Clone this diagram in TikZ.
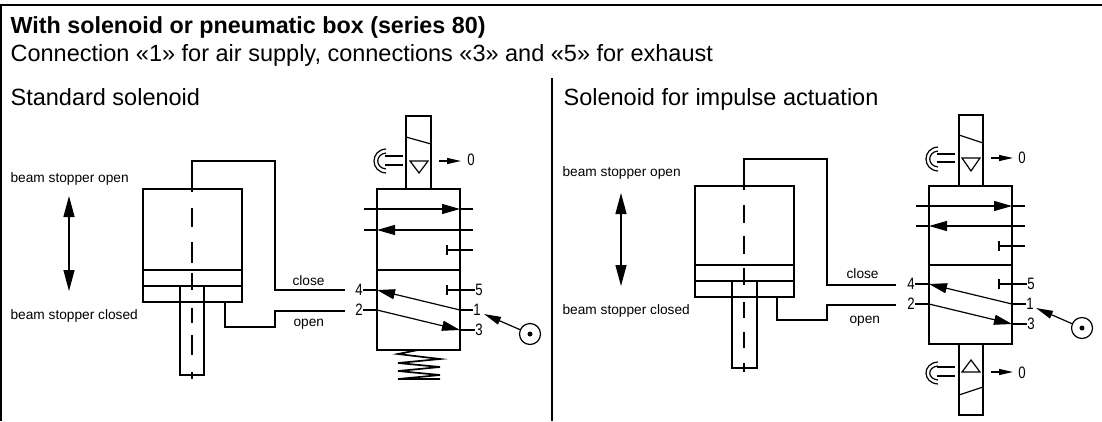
\documentclass[tikz,border=0pt]{standalone}
\usepackage{fontspec}
\usepackage{tikz}
\usetikzlibrary{arrows.meta}
\setmainfont{Liberation Sans}
\newfontfamily\cadfont[FakeStretch=0.8]{Liberation Sans}

\begin{document}
\begin{tikzpicture}[x=1pt,y=-1pt,line width=1.2pt,
	head/.style={anchor=base west,inner sep=0pt,font=\fontsize{23.5}{25}\selectfont},
	note/.style={anchor=base west,inner sep=0pt,font=\fontsize{13.7}{15}\selectfont},
	num/.style={inner sep=0pt,font=\cadfont\fontsize{16.5}{17}\selectfont},
	port/.style={draw,circle,minimum size=21pt,inner sep=0pt},
	big/.style={-{Triangle[length=18pt,width=10pt]}},
	mid/.style={-{Triangle[length=17pt,width=8pt]}},
	tiny/.style={-{Triangle[length=14pt,width=6pt]}},
	dbl/.style={{Triangle[length=21pt,width=11pt]}-{Triangle[length=21pt,width=11pt]}}]
	\useasboundingbox (0,0) rectangle (1102,421);
	
	% frame
	\draw[line width=2pt] (0,5)--(1102,5);
	\draw[line width=2pt] (1,5)--(1,421);
	\draw[line width=1.5pt] (552,78)--(552,421);
	
	% texts
	\node[head,font=\fontsize{23.3}{25}\selectfont\bfseries] (title) at (10,33.5) {With solenoid or pneumatic box (series 80)};
	\node[head] (sub) at (10,61) {Connection «1» for air supply, connections «3» and «5» for exhaust};
	\node[head] (stdname) at (10,105.5) {Standard solenoid};
	\node[head] (impname) at (563,105.5) {Solenoid for impulse actuation};
	\foreach \n/\x/\y/\t in
	{openL/10/182/beam stopper open, closedL/10/319/beam stopper closed,
		openR/562/176/beam stopper open, closedR/562/314/beam stopper closed,
		closeL/292/285/close, valL/293/326/open, closeR/846/278/close, valR/849/323/open}{
		\node[note] (\n) at (\x,\y) {\t};
	}
	\draw[dbl] (69,196)--(69,291);
	\draw[dbl] (621,193)--(621,286);
	
	% cylinder (left)
	\draw (143,189) rectangle (242,302);
	\draw (143,270)--(242,270);
	\draw (143,286)--(242,286);
	\draw (180,286)--(180,375)--(204,375)--(204,286);
	\draw (192,192)--(192,161)--(275,161)--(275,290)--(345,290);
	\draw (225,302)--(225,327)--(275,327)--(275,311)--(345,311);
	\foreach \a/\b in
	{208/227, 242/263, 273/290, 308/323, 335/355, 372/379}{
		\draw (192,\a)--(192,\b);
	}
	
	% cylinder (right)
	\draw (695,186) rectangle (794,297);
	\draw (695,265)--(794,265);
	\draw (695,281)--(794,281);
	\draw (732,281)--(732,368)--(757,368)--(757,281);
	\draw (744,190)--(744,159)--(827,159)--(827,285)--(896,285);
	\draw (777,297)--(777,320)--(827,320)--(827,305)--(896,305);
	\foreach \a/\b in
	{205/223, 236/254, 268/285, 302/318, 332/348, 363/372}{
		\draw (744,\a)--(744,\b);
	}
	
	% valve (left)
	\draw (377,189) rectangle (460,350);
	\draw (377,270)--(460,270);
	\draw[big] (364,209)--(460,209);
	\draw (460,209)--(473,209);
	\draw[big] (473,230)--(377,230);
	\draw (377,230)--(364,230);
	\draw (447,245)--(447,255) (447,250)--(473,250);
	\draw (447,285)--(447,295) (447,290)--(473,290);
	\draw[big] (460,310)--(377,290);
	\draw[big] (377,310)--(460,330);
	\foreach \n/\t/\x/\y in
	{a/4/359/290, b/2/359/310, c/5/479/290, d/1/477/310, e/3/479/330}{
		\node[num] (\n L) at (\x,\y) {\t};
	}
	\draw (aL)--(377,290) (bL)--(377,310) (cL)--(447,290) (dL)--(460,310) (eL)--(460,330);
	\node[port] (srcL) at (530,334) {};
	\fill (srcL) circle (2.5pt);
	\coordinate (tipL) at (484,314);
	\draw[mid] (srcL)--(tipL);
	\draw[line width=1.7pt] (418,350)--(398,354)--(440,359)--(398,363)--(440,367)--(398,371)--(440,375)--(398,379)--(440,379);
	
	% solenoid on the left valve
	\draw (406,189)--(406,116)--(431,116)--(431,189);
	\draw (406,137)--(431,144);
	\draw (410,161)--(428,161)--(419,173)--cycle;
	\draw[tiny] (439,161)--(461,161);
	\node[num] (zeroL) at (471,160) {0};
	\draw (385,156)--(403,156) (385,165)--(403,165);
	\draw (386,149) .. controls (370,150) and (370,172) .. (386,173);
	\draw (386,153) .. controls (375,154) and (375,168) .. (386,169);
	
	% valve (right)
	\draw (929,186) rectangle (1012,344);
	\draw (929,265)--(1012,265);
	\draw[big] (916,206)--(1012,206);
	\draw (1012,206)--(1025,206);
	\draw[big] (1025,226)--(929,226);
	\draw (929,226)--(916,226);
	\draw (999,241)--(999,251) (999,246)--(1025,246);
	\draw (999,279)--(999,289) (999,284)--(1025,284);
	\draw[big] (1012,304)--(929,284);
	\draw[big] (929,304)--(1012,324);
	\foreach \n/\t/\x/\y in
	{a/4/911/284, b/2/911/304, c/5/1031/284, d/1/1030/304, e/3/1031/324}{
		\node[num] (\n R) at (\x,\y) {\t};
	}
	\draw (aR)--(929,284) (bR)--(929,304) (cR)--(999,284) (dR)--(1012,304) (eR)--(1012,324);
	\node[port] (srcR) at (1082,328) {};
	\fill (srcR) circle (2.5pt);
	\coordinate (tipR) at (1036,308);
	\draw[mid] (srcR)--(tipR);
	
	% solenoids on the right valve
	\draw (959,186)--(959,115)--(983,115)--(983,186);
	\draw (959,135)--(983,143);
	\draw (962,158)--(980,158)--(971,171)--cycle;
	\draw[tiny] (991,158)--(1013,158);
	\node[num] (zeroRa) at (1022,158) {0};
	\draw (937,154)--(955,154) (937,162)--(955,162);
	\draw (938,147) .. controls (922,148) and (922,170) .. (938,171);
	\draw (938,151) .. controls (927,152) and (927,166) .. (938,167);
	
	\draw (959,344)--(959,415)--(983,415)--(983,344);
	\draw (959,395)--(983,387);
	\draw (962,372)--(980,372)--(971,360)--cycle;
	\draw[tiny] (991,372)--(1013,372);
	\node[num] (zeroRb) at (1022,373) {0};
	\draw (937,367)--(955,367) (937,376)--(955,376);
	\draw (938,362) .. controls (922,363) and (922,383) .. (938,384);
	\draw (938,366) .. controls (927,367) and (927,379) .. (938,380);
\end{tikzpicture}
\end{document}
